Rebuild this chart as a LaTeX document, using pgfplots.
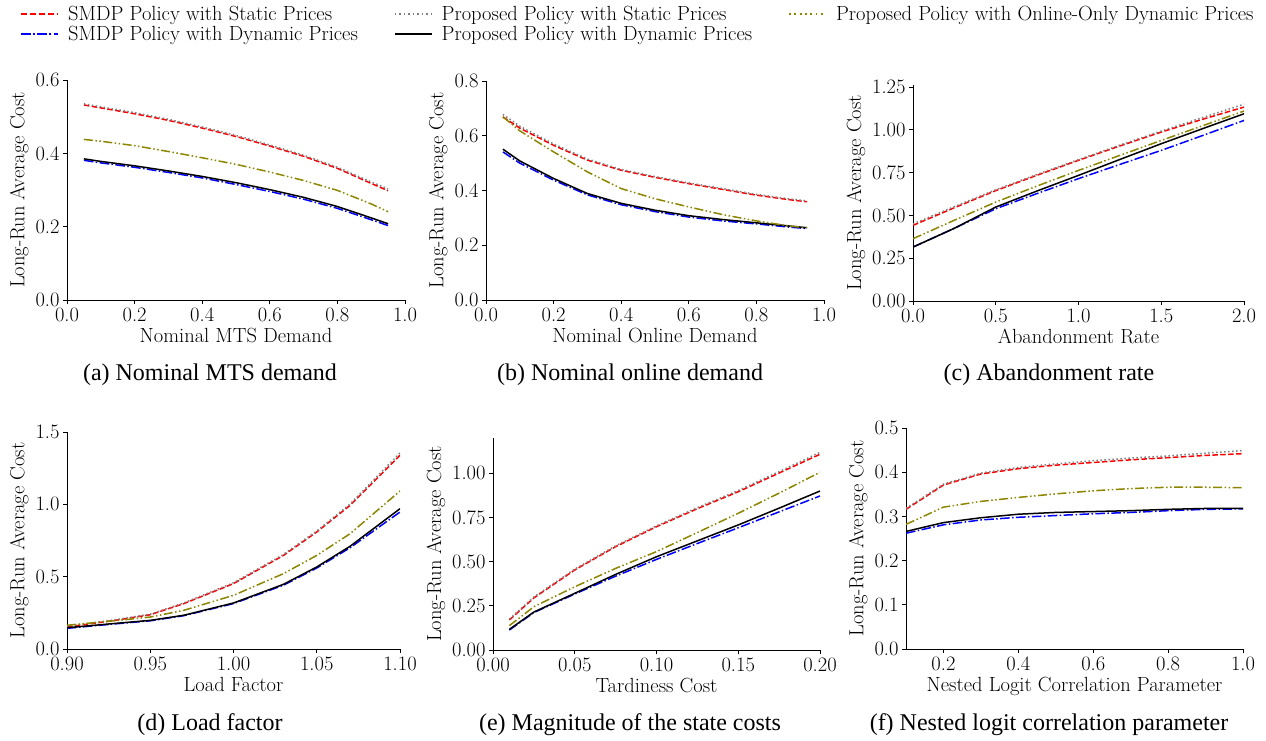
\documentclass[border=0pt]{standalone}
\usepackage{fontspec}
\usepackage{pgfplots}
\usepackage{pgfplotstable}
\pgfplotsset{compat=1.18}
\newfontfamily\capfont{Liberation Serif}

\pgfplotstableread{
x ss sd ps pd po
0.05 0.532 0.381 0.535 0.385 0.438
0.10 0.524 0.374 0.527 0.378 0.433
0.20 0.508 0.362 0.511 0.366 0.421
0.30 0.490 0.348 0.493 0.352 0.405
0.40 0.469 0.333 0.472 0.337 0.388
0.50 0.446 0.315 0.449 0.320 0.370
0.60 0.420 0.296 0.423 0.301 0.349
0.70 0.392 0.275 0.395 0.280 0.326
0.80 0.359 0.250 0.362 0.255 0.299
0.90 0.318 0.219 0.322 0.224 0.262
0.95 0.298 0.203 0.303 0.208 0.241
}\tabA
\pgfplotstableread{
x ss sd ps pd po
0.05 0.669 0.541 0.678 0.551 0.669
0.10 0.628 0.500 0.635 0.508 0.618
0.20 0.565 0.438 0.570 0.444 0.541
0.30 0.511 0.384 0.515 0.389 0.468
0.40 0.474 0.348 0.477 0.353 0.407
0.50 0.448 0.323 0.451 0.328 0.370
0.60 0.425 0.303 0.428 0.308 0.340
0.70 0.404 0.289 0.407 0.294 0.312
0.80 0.383 0.278 0.386 0.282 0.289
0.90 0.366 0.266 0.369 0.270 0.270
0.95 0.359 0.261 0.362 0.264 0.264
}\tabB
\pgfplotstableread{
x ss sd ps pd po
0.00 0.442 0.315 0.450 0.315 0.364
0.25 0.545 0.425 0.552 0.425 0.472
0.50 0.645 0.539 0.650 0.549 0.578
0.75 0.735 0.628 0.740 0.643 0.672
1.00 0.822 0.715 0.826 0.734 0.763
1.25 0.906 0.798 0.911 0.827 0.851
1.50 0.987 0.880 0.993 0.919 0.938
1.75 1.062 0.967 1.072 1.007 1.024
2.00 1.133 1.055 1.150 1.094 1.110
}\tabC
\pgfplotstableread{
x ss sd ps pd po
0.90 0.152 0.143 0.158 0.147 0.164
0.93 0.200 0.175 0.204 0.178 0.197
0.95 0.237 0.195 0.241 0.198 0.221
0.97 0.313 0.230 0.318 0.233 0.267
1.00 0.452 0.314 0.458 0.318 0.371
1.03 0.647 0.441 0.654 0.447 0.521
1.05 0.809 0.560 0.816 0.567 0.647
1.07 0.993 0.700 1.002 0.710 0.797
1.10 1.339 0.947 1.355 0.970 1.092
}\tabD
\pgfplotstableread{
x ss sd ps pd po
0.010 0.170 0.113 0.175 0.117 0.138
0.025 0.295 0.212 0.300 0.215 0.245
0.050 0.453 0.317 0.458 0.321 0.358
0.075 0.585 0.418 0.590 0.428 0.462
0.100 0.698 0.513 0.703 0.528 0.557
0.125 0.800 0.603 0.806 0.618 0.665
0.150 0.896 0.692 0.903 0.708 0.774
0.175 1.002 0.782 1.010 0.803 0.888
0.200 1.108 0.872 1.119 0.900 1.006
}\tabE
\pgfplotstableread{
x ss sd ps pd po
0.1 0.316 0.262 0.318 0.266 0.282
0.2 0.371 0.281 0.373 0.286 0.321
0.3 0.396 0.292 0.398 0.297 0.334
0.4 0.408 0.298 0.411 0.305 0.343
0.5 0.416 0.302 0.419 0.309 0.351
0.6 0.422 0.306 0.426 0.311 0.358
0.7 0.428 0.309 0.432 0.313 0.363
0.8 0.433 0.313 0.437 0.316 0.366
0.9 0.438 0.316 0.443 0.318 0.366
1.0 0.442 0.317 0.449 0.318 0.365
}\tabF

\tikzset{
 smdps/.style={red, line width=1.5pt, dash pattern=on 5.5pt off 2.4pt},
 smdpd/.style={blue, line width=1.5pt, dash pattern=on 9.6pt off 2.4pt on 1.5pt off 2.4pt},
 props/.style={gray, line width=1.5pt, dash pattern=on 1.5pt off 2.5pt},
 propd/.style={black, line width=1.5pt},
 propo/.style={olive, line width=1.5pt, dash pattern=on 9pt off 2.5pt on 1.5pt off 2.5pt on 1.5pt off 2.5pt},
}

\pgfplotsset{
 myax/.style={
  scale only axis,
  axis lines=left,
  axis line style={-, line width=0.9pt},
  tick align=outside,
  major tick length=4pt,
  tick style={black, line width=0.9pt},
  tick label style={font=\fontsize{20.5}{24}\selectfont},
  label style={font=\fontsize{20.5}{24}\selectfont},
  ylabel={Long-Run Average Cost},
  /pgf/number format/assume math mode=true,
  ymin=0,
 },
 fx1/.style={xticklabel style={/pgf/number format/.cd, fixed, fixed zerofill, precision=1}},
 fx2/.style={xticklabel style={/pgf/number format/.cd, fixed, fixed zerofill, precision=2}},
 fy1/.style={yticklabel style={/pgf/number format/.cd, fixed, fixed zerofill, precision=1}},
 fy2/.style={yticklabel style={/pgf/number format/.cd, fixed, fixed zerofill, precision=2}},
}

\newcommand{\allplots}[1]{%
 \addplot[smdps] table[x=x,y=ss]{#1};
 \addplot[smdpd] table[x=x,y=sd]{#1};
 \addplot[props] table[x=x,y=ps]{#1};
 \addplot[propd] table[x=x,y=pd]{#1};
 \addplot[propo] table[x=x,y=po]{#1};
}

\begin{document}
\begin{tikzpicture}[x=1pt,y=1pt]
\path[use as bounding box] (0pt,0pt) rectangle (1266pt,-740pt);

% legend
\begin{axis}[hide axis, scale only axis, width=1pt, height=1pt, at={(638pt,-24pt)}, anchor=center,
 xmin=0, xmax=1, ymin=0, ymax=1,
 legend columns=3,
 legend cell align=left,
 legend style={at={(0.5,0.5)}, anchor=center, draw=none, fill=none,
   font=\fontsize{20.5}{23}\selectfont,
   /tikz/every odd column/.append style={column sep=7pt},
   /tikz/every even column/.append style={column sep=34pt}},
 legend image code/.code={\draw[#1] (0pt,0pt) -- (37pt,0pt);}]
\addlegendimage{red, line width=1.8pt, dash pattern=on 5.5pt off 3.5pt}
\addlegendentry{SMDP Policy with Static Prices}
\addlegendimage{gray, line width=1.5pt, dash pattern=on 1.5pt off 3pt}
\addlegendentry{Proposed Policy with Static Prices}
\addlegendimage{olive, line width=1.8pt, dash pattern=on 1.8pt off 3.5pt}
\addlegendentry{Proposed Policy with Online-Only Dynamic Prices}
\addlegendimage{blue, line width=1.8pt, dash pattern=on 9.6pt off 2.4pt on 1.8pt off 2.4pt}
\addlegendentry{SMDP Policy with Dynamic Prices}
\addlegendimage{black, line width=1.8pt}
\addlegendentry{Proposed Policy with Dynamic Prices}
\end{axis}

% (a)
\begin{axis}[myax, fx1, fy1, at={(67pt,-300pt)}, anchor=south west, width=338pt, height=220pt,
 xmin=0, xmax=1, ymax=0.6, xtick={0,0.2,0.4,0.6,0.8,1.0}, ytick={0,0.2,0.4,0.6},
 xlabel={Nominal MTS Demand}]
\allplots{\tabA}
\end{axis}
% (b)
\begin{axis}[myax, fx1, fy1, at={(486pt,-300pt)}, anchor=south west, width=338pt, height=219pt,
 xmin=0, xmax=1, ymax=0.8, xtick={0,0.2,0.4,0.6,0.8,1.0}, ytick={0,0.2,0.4,0.6,0.8},
 xlabel={Nominal Online Demand}]
\allplots{\tabB}
\end{axis}
% (c)
\begin{axis}[myax, fx1, fy2, at={(913pt,-301pt)}, anchor=south west, width=331pt, height=216pt,
 xmin=0, xmax=2, ymax=1.262, xtick={0,0.5,1.0,1.5,2.0}, ytick={0,0.25,0.5,0.75,1.0,1.25},
 xlabel={Abandonment Rate}]
\allplots{\tabC}
\end{axis}
% (d)
\begin{axis}[myax, fx2, fy1, at={(67pt,-649pt)}, anchor=south west, width=333pt, height=217pt,
 xmin=0.9, xmax=1.1, ymax=1.5, xtick={0.9,0.95,1.0,1.05,1.1}, ytick={0,0.5,1.0,1.5},
 xlabel={Load Factor}]
\allplots{\tabD}
\end{axis}
% (e)
\begin{axis}[myax, fx2, fy2, at={(493pt,-650pt)}, anchor=south west, width=327pt, height=212pt,
 xmin=0, xmax=0.2, ymax=1.2, xtick={0,0.05,0.1,0.15,0.2}, ytick={0,0.25,0.5,0.75,1.0},
 xlabel={Tardiness Cost}]
\allplots{\tabE}
\end{axis}
% (f)
\begin{axis}[myax, fx1, fy1, at={(906pt,-649pt)}, anchor=south west, width=337pt, height=221pt,
 xmin=0.1, xmax=1.0, ymax=0.5, xtick={0.2,0.4,0.6,0.8,1.0}, ytick={0,0.1,0.2,0.3,0.4,0.5},
 xlabel={Nested Logit Correlation Parameter}]
\allplots{\tabF}
\end{axis}

\node[font=\capfont\fontsize{24}{28}\selectfont] at (210pt,-375pt) {(a) Nominal MTS demand};
\node[font=\capfont\fontsize{24}{28}\selectfont] at (630pt,-375pt) {(b) Nominal online demand};
\node[font=\capfont\fontsize{24}{28}\selectfont] at (1049pt,-375pt) {(c) Abandonment rate};
\node[font=\capfont\fontsize{24}{28}\selectfont] at (210pt,-725pt) {(d) Load factor};
\node[font=\capfont\fontsize{24}{28}\selectfont] at (630pt,-725pt) {(e) Magnitude of the state costs};
\node[font=\capfont\fontsize{24}{28}\selectfont] at (1049pt,-725pt) {(f) Nested logit correlation parameter};
\end{tikzpicture}
\end{document}
